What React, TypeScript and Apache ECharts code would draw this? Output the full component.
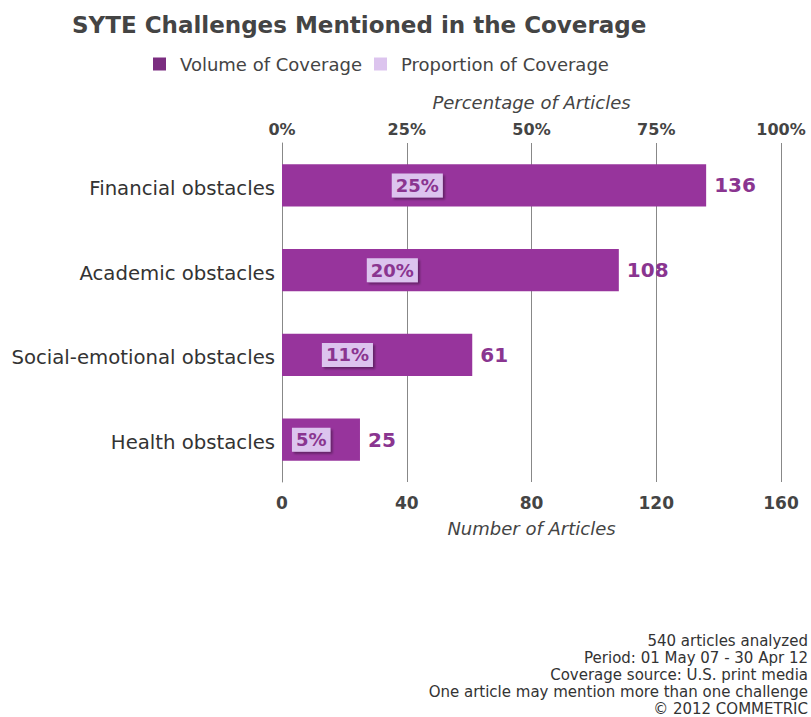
import React, { useEffect, useRef } from "react";
import * as echarts from "echarts";

const categories = ["Financial obstacles", "Academic obstacles", "Social-emotional obstacles", "Health obstacles"];
const volumeValues = [136, 108, 61, 25];
const proportionValues = [25, 20, 11, 5];
const footerLines = [
  "540 articles analyzed",
  "Period: 01 May 07 - 30 Apr 12",
  "Coverage source: U.S. print media",
  "One article may mention more than one challenge",
  "© 2012 COMMETRIC",
];

const FONT = "DejaVu Sans";
const BAR = "#97349c";
const LAV = "#dcc4ee";
const LABEL = "#8a3590";

export default function App() {
  const ref = useRef<HTMLDivElement>(null);
  useEffect(() => {
    const chart = echarts.init(ref.current!, undefined, { renderer: "svg" });
    chart.setOption({
      animation: false,
      backgroundColor: "#ffffff",
      textStyle: { fontFamily: FONT },
      title: {
        text: "SYTE Challenges Mentioned in the Coverage",
        left: 67,
        top: 8,
        textStyle: { fontFamily: FONT, fontSize: 23, fontWeight: "bold", color: "#444" },
      },
      legend: {
        left: 148,
        top: 50,
        itemWidth: 13,
        itemHeight: 13,
        itemGap: 12,
        icon: "rect",
        textStyle: { fontFamily: FONT, fontSize: 18, color: "#444", padding: [0, 0, 0, 9] },
        data: [
          { name: "Volume of Coverage", itemStyle: { color: "#7b2d80" } },
          { name: "Proportion of Coverage", itemStyle: { color: LAV, opacity: 1 } },
        ],
      },
      grid: { left: 282, right: 30, top: 143, bottom: 235, containLabel: false },
      xAxis: [
        {
          type: "value",
          position: "bottom",
          min: 0,
          max: 160,
          interval: 40,
          name: "Number of Articles",
          nameLocation: "middle",
          nameGap: 37,
          nameTextStyle: { fontFamily: FONT, fontSize: 18, fontStyle: "italic", color: "#444" },
          axisLine: { show: false },
          axisTick: { show: false },
          axisLabel: { fontFamily: FONT, fontSize: 17, fontWeight: "bold", color: "#444", margin: 12 },
          splitLine: { show: true, lineStyle: { color: "#888", width: 1 } },
        },
        {
          type: "value",
          position: "top",
          min: 0,
          max: 100,
          interval: 25,
          name: "Percentage of Articles",
          nameLocation: "middle",
          nameGap: 32,
          nameTextStyle: { fontFamily: FONT, fontSize: 18, fontStyle: "italic", color: "#444" },
          axisLine: { show: false },
          axisTick: { show: false },
          axisLabel: { fontFamily: FONT, fontSize: 16, fontWeight: "bold", color: "#444", margin: 6, formatter: "{value}%" },
          splitLine: { show: false },
        },
      ],
      yAxis: {
        type: "category",
        data: categories,
        inverse: true,
        axisLine: { show: true, lineStyle: { color: "#888" } },
        axisTick: { show: false },
        axisLabel: {
          margin: 7,
          formatter: "{a|{value}}",
          rich: { a: { fontFamily: FONT, fontSize: 19.7, color: "#333", padding: [6, 0, 0, 0] } },
        },
      },
      series: [
        {
          name: "Volume of Coverage",
          type: "bar",
          xAxisIndex: 0,
          data: volumeValues,
          barWidth: "50%",
          barGap: "-100%",
          itemStyle: { color: BAR },
          label: {
            show: true,
            position: "right",
            distance: 8,
            fontFamily: FONT,
            fontSize: 20,
            fontWeight: "bold",
            color: LABEL,
          },
          z: 2,
        },
        {
          name: "Proportion of Coverage",
          type: "bar",
          xAxisIndex: 1,
          data: proportionValues,
          barWidth: "50%",
          barGap: "-100%",
          itemStyle: { color: "rgba(0,0,0,0)" },
          label: {
            show: true,
            position: "right",
            distance: 0,
            offset: [-15, 0],
            formatter: "{c}%",
            fontFamily: FONT,
            fontSize: 18,
            fontWeight: "bold",
            color: LABEL,
            backgroundColor: LAV,
            padding: [4, 4, 2, 4],
            shadowColor: "rgba(0,0,0,0.35)",
            shadowOffsetX: 2,
            shadowOffsetY: 2,
            shadowBlur: 2,
          },
          z: 3,
        },
      ],
      graphic: [
        {
          type: "text",
          right: 3,
          bottom: 0,
          style: {
            text: footerLines.join("\n"),
            font: `15px "${FONT}"`,
            lineHeight: 17,
            fill: "#333",
            textAlign: "right",
          },
        },
      ],
    });
    return () => chart.dispose();
  }, []);
  return <div ref={ref} style={{ position: "fixed", left: 0, top: 0, width: 811, height: 717 }} />;
}
